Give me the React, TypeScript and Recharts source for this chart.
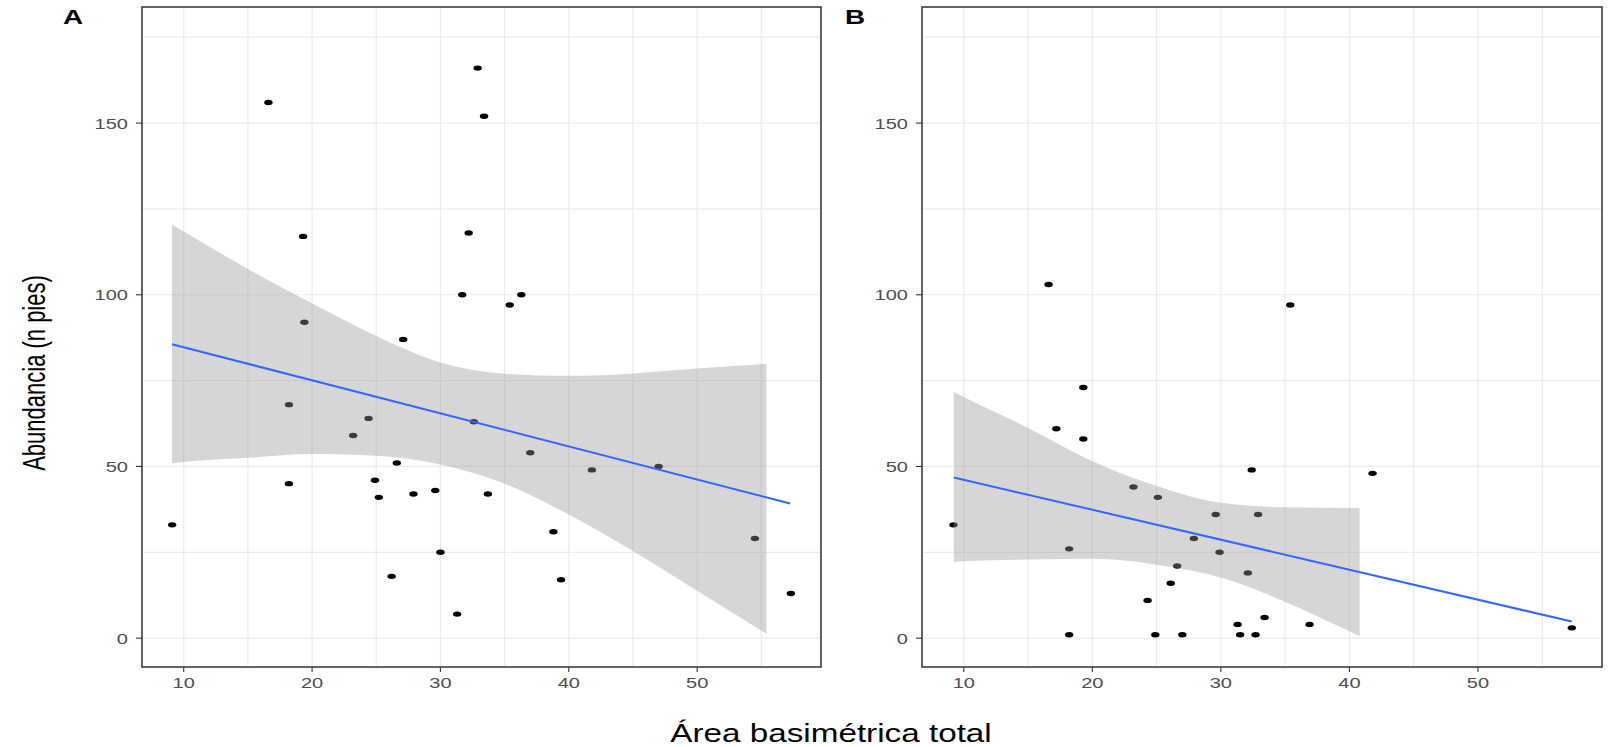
import React from 'react';
import { ComposedChart, XAxis, YAxis, CartesianGrid, Scatter, Area, Line } from 'recharts';

const FONT = '"Liberation Sans", Arial, Helvetica, sans-serif';

const xDomain: [number, number] = [6.75, 59.65];
const yDomain: [number, number] = [-8.4, 183.8];
const xMajorTicks = [10, 20, 30, 40, 50];
const xGridTicks = [10, 15, 20, 25, 30, 35, 40, 45, 50, 55];
const yMajorTicks = [0, 50, 100, 150];
const yGridTicks = [0, 25, 50, 75, 100, 125, 150, 175];

// Panel A points
const pointsAX = [9.1, 16.6, 18.2, 18.2, 19.3, 19.4, 23.2, 24.4, 24.9, 25.2, 26.2, 26.6, 27.1, 27.9, 29.6, 30.0, 31.3, 31.7, 32.2, 32.6, 32.9, 33.4, 33.7, 35.4, 36.3, 37.0, 38.8, 39.4, 41.8, 47.0, 54.5, 57.3];
const pointsAY = [33, 156, 68, 45, 117, 92, 59, 64, 46, 41, 18, 51, 87, 42, 43, 25, 7, 100, 118, 63, 166, 152, 42, 97, 100, 54, 31, 17, 49, 50, 29, 13];

// Panel B points
const pointsBX = [9.2, 16.6, 17.2, 18.2, 18.2, 19.3, 19.3, 23.2, 24.3, 24.9, 25.1, 26.1, 26.6, 27.0, 27.9, 29.6, 29.9, 31.3, 31.5, 32.1, 32.4, 32.7, 32.9, 33.4, 35.4, 36.9, 41.8, 57.3];
const pointsBY = [33, 103, 61, 26, 1, 73, 58, 44, 11, 1, 41, 16, 21, 1, 29, 36, 25, 4, 1, 19, 49, 1, 36, 6, 97, 4, 48, 3];

// Fitted lines (endpoints)
const fitAX = [9.09, 57.24];
const fitAY = [85.6, 39.2];
const fitBX = [9.22, 57.29];
const fitBY = [46.8, 4.85];

// Confidence ribbons
const bandAX = [9.09, 10, 15, 20, 25, 30, 35, 40, 45, 50, 55.4];
const bandALo = [50.9, 51.3, 52.5, 53.6, 53.1, 50.6, 45.0, 36.0, 25.4, 13.8, 1.3];
const bandAHi = [120.4, 118.4, 107.5, 97.5, 88.0, 80.3, 77.0, 76.4, 77.1, 78.5, 79.9];

const bandBX = [9.22, 10, 15, 20, 25, 30, 35, 40, 40.8];
const bandBLo = [22.2, 22.4, 22.9, 23.1, 21.4, 17.7, 10.6, 2.0, 0.6];
const bandBHi = [71.7, 70.2, 61.2, 51.5, 44.3, 39.4, 38.1, 37.9, 37.9];

const toPts = (xs: number[], ys: number[]) => xs.map((x, i) => ({ x, y: ys[i] }));
const toBand = (xs: number[], lo: number[], hi: number[]) => xs.map((x, i) => ({ x, band: [lo[i], hi[i]] }));

const XTick = (props: any) => {
  const { x, y, payload } = props;
  const v = payload.value;
  if (!xMajorTicks.includes(v)) return <g />;
  return (
    <g>
      <line x1={x} x2={x} y1={y - 7} y2={y - 2} stroke="#333333" strokeWidth={1.1} />
      <text
        transform={`translate(${x},${y + 13.7}) scale(1.3,1)`}
        textAnchor="middle"
        fontSize={15.4}
        fill="#4d4d4d"
        fontFamily={FONT}
      >
        {v}
      </text>
    </g>
  );
};

const YTick = (props: any) => {
  const { x, y, payload } = props;
  const v = payload.value;
  if (!yMajorTicks.includes(v)) return <g />;
  return (
    <g>
      <line x1={x + 8} x2={x + 14} y1={y} y2={y} stroke="#333333" strokeWidth={1.1} />
      <text
        transform={`translate(${x},${y}) scale(1.3,1)`}
        textAnchor="end"
        dy="0.36em"
        fontSize={15.4}
        fill="#4d4d4d"
        fontFamily={FONT}
      >
        {v}
      </text>
    </g>
  );
};

const Dot = (props: any) => {
  const { cx, cy } = props;
  if (cx == null || cy == null) return <g />;
  return <ellipse cx={cx} cy={cy} rx={4.2} ry={2.7} fill="#000000" />;
};

type PanelProps = {
  left: number;
  width: number;
  margin: { top: number; right: number; bottom: number; left: number };
  points: { x: number; y: number }[];
  fit: { x: number; y: number }[];
  band: { x: number; band: number[] }[];
};

const Panel = ({ left, width, margin, points, fit, band }: PanelProps) => (
  <div style={{ position: 'absolute', left, top: 0, width, height: 747 }}>
    <ComposedChart width={width} height={747} data={band} margin={margin}>
      <CartesianGrid stroke="#EBEBEB" strokeWidth={1.2} />
      <XAxis
        type="number"
        dataKey="x"
        domain={xDomain}
        ticks={xGridTicks}
        interval={0}
        allowDataOverflow
        height={30}
        axisLine={false}
        tickLine={false}
        tickSize={5}
        tickMargin={2}
        tick={<XTick />}
      />
      <YAxis
        type="number"
        domain={yDomain}
        ticks={yGridTicks}
        interval={0}
        allowDataOverflow
        width={60}
        axisLine={false}
        tickLine={false}
        tickSize={6}
        tickMargin={8}
        tick={<YTick />}
      />
      <Scatter data={points} dataKey="y" shape={<Dot />} isAnimationActive={false} zIndex={50} />
      <Area
        type="monotone"
        dataKey="band"
        stroke="none"
        fill="#999999"
        fillOpacity={0.4}
        isAnimationActive={false}
        activeDot={false}
        dot={false}
      />
      <Line
        data={fit}
        type="linear"
        dataKey="y"
        stroke="#3366FF"
        strokeWidth={2}
        dot={false}
        activeDot={false}
        isAnimationActive={false}
      />
    </ComposedChart>
  </div>
);

export default function App() {
  return (
    <div style={{ position: 'absolute', left: 0, top: 0, width: 1616, height: 747, background: '#ffffff', overflow: 'hidden' }}>
      <Panel
        left={0}
        width={830}
        margin={{ top: 7, right: 9, bottom: 50, left: 82 }}
        points={toPts(pointsAX, pointsAY)}
        fit={toPts(fitAX, fitAY)}
        band={toBand(bandAX, bandALo, bandAHi)}
      />
      <Panel
        left={830}
        width={786}
        margin={{ top: 7, right: 14, bottom: 50, left: 32 }}
        points={toPts(pointsBX, pointsBY)}
        fit={toPts(fitBX, fitBY)}
        band={toBand(bandBX, bandBLo, bandBHi)}
      />
      <svg width={1616} height={747} style={{ position: 'absolute', left: 0, top: 0, pointerEvents: 'none' }}>
        <rect x={142} y={7} width={679} height={660} fill="none" stroke="#333333" strokeWidth={1.5} />
        <rect x={922} y={7} width={680} height={660} fill="none" stroke="#333333" strokeWidth={1.5} />
        <text transform="translate(63,24) scale(1.43,1)" fontSize={19.5} fontWeight="bold" fill="#000" fontFamily={FONT}>A</text>
        <text transform="translate(845,24) scale(1.43,1)" fontSize={19.5} fontWeight="bold" fill="#000" fontFamily={FONT}>B</text>
        <text
          transform="translate(32,373) scale(1.4,1) rotate(-90)"
          textAnchor="middle"
          y={9.5}
          fontSize={22}
          fill="#000"
          fontFamily={FONT}
        >
          Abundancia (n pies)
        </text>
        <text
          transform="translate(831,741.5) scale(1.33,1)"
          textAnchor="middle"
          fontSize={25}
          fill="#000"
          fontFamily={FONT}
        >
          Área basimétrica total
        </text>
      </svg>
    </div>
  );
}
